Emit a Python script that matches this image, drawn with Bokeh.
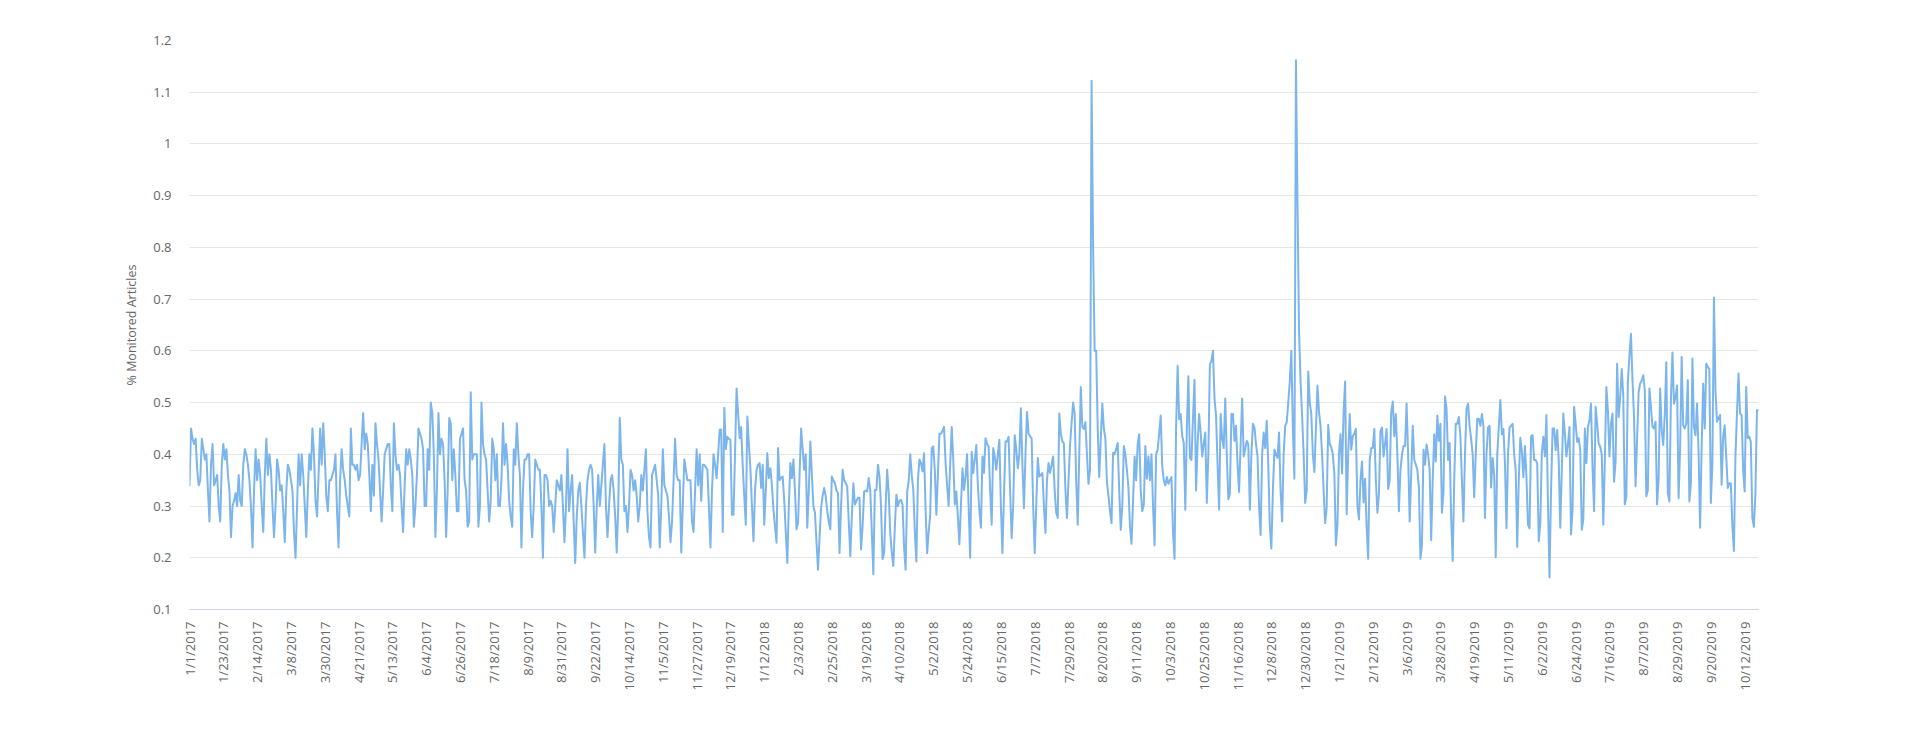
import math
import datetime as dt
from bokeh.plotting import figure
from bokeh.models import FixedTicker, Range1d, ColumnDataSource, CustomJSTickFormatter
from bokeh.embed import file_html
from bokeh.resources import INLINE

# ---------------- data ----------------
START_DATE = dt.date(2017, 1, 1)
MISSING_DATES = [dt.date(2017, 12, 25), dt.date(2018, 1, 1)]   # no data on these days
TICK_EVERY = 22            # a label every 22 points
Y_TICKS = [0.1, 0.2, 0.3, 0.4, 0.5, 0.6, 0.7, 0.8, 0.9, 1.0, 1.1, 1.2]
Y_TITLE = "% Monitored Articles"

values_2017 = [
    .34, .45, .43, .42, .43, .37, .34,
    .35, .43, .41, .39, .40, .33, .27,
    .38, .42, .34, .35, .36, .30, .27,
    .38, .42, .39, .41, .36, .33, .24,
    .30, .31, .325, .30, .36, .31, .30,
    .38, .41, .40, .38, .35, .30, .22,
    .33, .41, .35, .39, .36, .30, .25,
    .36, .43, .36, .40, .37, .30, .24,
    .30, .39, .37, .33, .34, .29, .23,
    .33, .38, .37, .35, .33, .25, .20,
    .30, .40, .34, .40, .36, .30, .24,
    .33, .40, .37, .45, .40, .31, .28,
    .36, .45, .38, .46, .40, .32, .29,
    .35, .35, .36, .37, .40, .29, .22,
    .35, .41, .37, .35, .32, .30, .28,
    .45, .38, .38, .37, .38, .35, .36,
    .42, .48, .41, .44, .42, .36, .29,
    .38, .32, .46, .42, .39, .33, .27,
    .33, .40, .41, .42, .42, .34, .29,
    .46, .40, .37, .38, .36, .30, .25,
    .34, .41, .38, .41, .39, .36, .26,
    .30, .36, .45, .44, .43, .41, .30,
    .30, .41, .37, .50, .48, .40, .24,
    .33, .48, .40, .43, .42, .35, .24,
    .33, .47, .46, .35, .41, .36, .29,
    .29, .43, .44, .45, .35, .33, .26,
    .27, .52, .39, .40, .40, .40, .26,
    .30, .50, .42, .40, .39, .33, .27,
    .31, .43, .41, .35, .40, .30, .30,
    .35, .46, .38, .42, .38, .31, .28,
    .26, .41, .38, .46, .40, .36, .22,
    .33, .39, .39, .40, .40, .29, .24,
    .30, .39, .38, .37, .37, .30, .20,
    .36, .36, .35, .30, .31, .30, .25,
    .30, .35, .34, .33, .36, .30, .23,
    .30, .41, .29, .33, .36, .27, .19,
    .28, .33, .345, .30, .25, .20,
    .30, .35, .37, .38, .37, .30, .21,
    .30, .36, .30, .34, .38, .42, .30,
    .24, .30, .35, .36, .33, .28, .21,
    .30, .47, .39, .38, .29, .30, .25,
    .30, .37, .36, .33, .35, .32, .27,
    .30, .36, .33, .37, .41, .29, .24,
    .22, .36, .37, .38, .35, .32, .22,
    .30, .41, .34, .33, .32, .28, .23,
    .27, .35, .43, .36, .35, .35, .21,
    .30, .39, .37, .35, .35, .35, .27,
    .25, .33, .41, .34, .40, .31, .38,
]

values_2018a = [
    .38, .375, .37, .30, .22, .33, .40, .38, .354, .40,
    .447, .448, .25, .49, .41, .434, .43, .428, .283, .283,
    .40, .527, .48, .431, .453, .377, .32, .264, .473, .42,
    .373, .30, .232, .33, .37, .38, .383, .335, .38, .264,
    .33, .402, .354, .373, .34, .293, .26, .229, .412, .35,
    .355, .357, .312, .25, .19, .30, .383, .354, .39, .33,
    .255, .267, .36, .45, .41, .37, .40, .258, .33, .425,
    .36, .30, .287, .23, .177, .24, .296, .32, .335, .319,
    .29, .27, .255, .357, .35, .344, .33, .325, .209, .30,
    .37, .35, .344, .338, .27, .203, .28, .344, .303, .31,
]

values_2018b = [
    .316, .316, .216, .26, .328, .33, .328, .354, .331, .25,
    .168, .331, .331, .38, .357, .30, .197, .209, .30, .37,
    .325, .248, .21, .184, .26, .322, .30, .31, .312, .303,
    .22, .177, .328, .348, .40, .36, .331, .25, .193, .35,
    .39, .383, .367, .402, .293, .209, .25, .283, .412, .415,
    .37, .283, .36, .44, .44, .445, .453, .383, .34, .30,
    .38, .453, .39, .303, .328, .28, .226, .30, .373, .331,
    .357, .40, .30, .20, .405, .364, .39, .418, .34, .29,
    .258, .396, .364, .431, .42, .415, .33, .264, .412, .396,
    .37, .40, .428, .30, .209, .32, .425, .425, .434, .33,
    .238, .30, .437, .41, .373, .40, .489, .38, .296, .40,
    .482, .44, .435, .431, .30, .209, .30, .393, .357, .36,
    .364, .30, .248, .35, .383, .364, .38, .396, .33, .287,
    .277, .479, .44, .425, .421, .33, .277, .35, .418, .46,
    .50, .479, .35, .264, .40, .53, .453,
]

values_2018c = [
    .449, .462, .40, .343, .37, 1.122, .805, .60, .60, .45,
    .356, .43, .498, .45, .43, .346, .32, .29, .267, .403,
    .40, .41, .422, .33, .254, .30, .416, .40, .37, .336,
    .26, .227, .31, .396, .35, .42, .439, .33, .29, .303,
    .416, .353, .396, .35, .40, .30, .224, .40, .409, .44,
    .475, .376, .35, .34, .356, .343, .35, .356, .25, .198,
    .45, .571, .468, .478, .435, .422, .293, .45, .551, .393,
    .389, .47, .544, .33, .42, .478, .442, .396, .42, .442,
    .306, .40, .574, .58, .60, .508, .475, .38, .293, .478,
    .43, .412, .508, .40, .313, .323, .478, .478, .426, .455,
    .38, .327, .42, .508, .396, .41, .426, .419, .293, .40,
    .459, .452, .42, .396, .30, .244, .40, .442, .412, .465,
    .38, .26, .218, .33, .409, .40, .393, .442, .33, .27,
    .40, .455, .462, .50, .541, .60, .45, .353, 1.162, .891,
    .64, .541, .475, .40, .306, .33,
]

values_2019a = [
    .56, .50, .478, .40, .366, .45, .533, .482, .455, .40,
    .33, .267, .297, .457, .42, .414, .40, .363, .224, .264,
    .40, .439, .363, .48, .541, .284, .40, .478, .409, .435,
    .44, .449, .30, .274, .35, .386, .307, .353, .26, .198,
    .389, .412, .412, .449, .35, .287, .323, .445, .452,
    .396, .42, .449, .333, .35, .482, .502, .435, .478, .40,
    .29, .37, .40, .416, .416, .498, .40, .27, .36, .455,
    .389, .38, .37, .336, .198, .224, .409, .38, .419, .40,
    .37, .234, .35, .439, .386, .475, .426, .459, .287, .327,
    .512, .488, .389, .422, .277, .194, .35, .459, .459, .472,
    .435, .35, .27, .40, .488, .498, .455, .43, .40, .317,
    .40, .469, .469, .455, .478, .455, .277, .40, .452, .455,
    .336, .393, .36, .201, .40, .452, .505, .439, .449, .383,
    .257, .40, .452, .455, .459, .40, .37, .221, .35, .432,
    .406, .356, .416, .356, .264, .257,
]

values_2019b = [
    .435, .437, .389, .389, .383, .232, .267, .402, .434, .396,
    .476, .306, .162, .33, .45, .45, .408, .447, .389, .258,
    .37, .479, .44, .396, .42, .453, .245, .293, .492, .46,
    .424, .431, .408, .254, .274, .45, .383, .453, .466, .498,
    .376, .29, .492, .46, .421, .415, .40, .264, .389, .53,
    .485, .396, .46, .479, .347, .386, .575, .472, .511, .565,
    .514, .303, .319, .54, .59, .633, .543, .472, .338, .43,
    .52, .537, .543, .553, .524, .319, .331, .527, .492, .453,
    .45, .463, .303, .351, .527, .447, .418, .476, .578, .325,
    .309, .504, .597, .498, .51, .533, .315, .412, .588, .456,
    .45, .46, .543, .309, .344, .585, .453, .437, .498, .405,
    .258, .412, .537, .45, .575, .569, .565, .306, .383, .703,
    .524, .463, .47, .476, .341, .434, .456, .396, .335, .344,
    .344, .261, .213, .396, .48, .556, .479, .476, .37, .328,
    .53, .431, .434, .424, .277, .26, .325, .485, .485,
]

values = values_2017 + values_2018a + values_2018b + values_2018c + values_2019a + values_2019b
n = len(values)

# one date per point, skipping the missing days
dates = []
d = START_DATE
while len(dates) < n:
    if d not in MISSING_DATES:
        dates.append(d)
    d += dt.timedelta(days=1)

idx = list(range(n))
x_ticks = list(range(0, n, TICK_EVERY))
x_labels = {t: f"{dates[t].month}/{dates[t].day}/{dates[t].year}" for t in x_ticks}

# ---------------- figure ----------------
FONT = "Open Sans"
LABEL_COLOR = "#666666"

p = figure(
    width=1904, height=724,
    output_backend="svg", toolbar_location=None,
    x_range=Range1d(0, n - 1),
    y_range=Range1d(Y_TICKS[0], Y_TICKS[-1]),
    min_border_left=189, min_border_right=146,
    min_border_top=40, min_border_bottom=115,
)
p.outline_line_color = None
p.background_fill_color = "white"
p.border_fill_color = "white"

src = ColumnDataSource(dict(i=idx, value=values))
p.line("i", "value", source=src, line_color="#7cb5ec", line_width=2,
       line_join="round", line_cap="round")

# y axis
p.yaxis.ticker = FixedTicker(ticks=Y_TICKS)
p.yaxis.formatter = CustomJSTickFormatter(code="return String(Math.round(tick*10)/10);")
p.yaxis.axis_line_color = None
p.yaxis.major_tick_line_color = None
p.yaxis.minor_tick_line_color = None
p.yaxis.major_tick_out = 0
p.yaxis.minor_tick_out = 0
p.yaxis.major_label_text_color = LABEL_COLOR
p.yaxis.major_label_text_font = FONT
p.yaxis.major_label_text_font_size = "13px"
p.yaxis.major_label_standoff = 18
p.yaxis.axis_label = Y_TITLE
p.yaxis.axis_label_text_color = LABEL_COLOR
p.yaxis.axis_label_text_font = FONT
p.yaxis.axis_label_text_font_size = "12.5px"
p.yaxis.axis_label_text_font_style = "normal"
p.yaxis.axis_label_standoff = 10

p.ygrid.ticker = FixedTicker(ticks=Y_TICKS)
p.ygrid.grid_line_color = "#e6e6e6"
p.ygrid.grid_line_width = 1
p.xgrid.grid_line_color = None

# x axis
p.xaxis.ticker = FixedTicker(ticks=x_ticks)
p.xaxis.major_label_overrides = x_labels
p.xaxis.major_label_orientation = math.pi / 2
p.xaxis.axis_line_color = "#ccd6eb"
p.xaxis.axis_line_width = 1
p.xaxis.major_tick_line_color = None
p.xaxis.minor_tick_line_color = None
p.xaxis.major_tick_out = 0
p.xaxis.minor_tick_out = 0
p.xaxis.major_label_text_color = LABEL_COLOR
p.xaxis.major_label_text_font = FONT
p.xaxis.major_label_text_font_size = "13px"
p.xaxis.major_label_standoff = 12

open("out.html", "w").write(file_html(p, INLINE))
